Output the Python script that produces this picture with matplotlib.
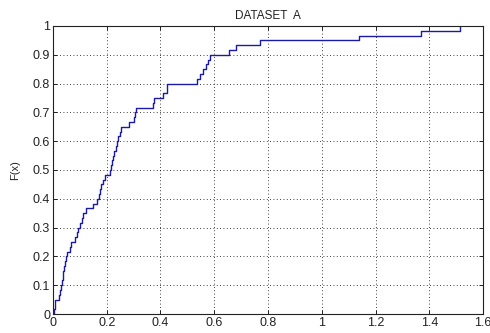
import numpy as np
import matplotlib
matplotlib.use("Agg")
import matplotlib.pyplot as plt

# sorted sample values of dataset A (60 observations)
samples = [
    0.003, 0.006, 0.009, 0.023, 0.026, 0.029, 0.032, 0.036, 0.039, 0.042,
    0.045, 0.048, 0.052, 0.063, 0.066, 0.082, 0.088, 0.094, 0.100, 0.107,
    0.113, 0.122, 0.150, 0.165, 0.170, 0.175, 0.180, 0.185, 0.193, 0.212,
    0.215, 0.218, 0.222, 0.227, 0.235, 0.238, 0.242, 0.250, 0.253, 0.284,
    0.300, 0.305, 0.309, 0.374, 0.376, 0.408, 0.423, 0.425, 0.537, 0.547,
    0.557, 0.570, 0.578, 0.583, 0.656, 0.680, 0.770, 1.140, 1.370, 1.514,
]
xticks = [0, 0.2, 0.4, 0.6, 0.8, 1, 1.2, 1.4, 1.6]
xtick_labels = ["0", "0.2", "0.4", "0.6", "0.8", "1", "1.2", "1.4", "1.6"]
yticks = [0, 0.1, 0.2, 0.3, 0.4, 0.5, 0.6, 0.7, 0.8, 0.9, 1]
ytick_labels = ["0", "0.1", "0.2", "0.3", "0.4", "0.5", "0.6", "0.7", "0.8", "0.9", "1"]

plt.rcParams["font.family"] = ["Liberation Sans", "DejaVu Sans"]

x = np.sort(np.array(samples))
n = len(x)
F = np.arange(1, n + 1) / n

fig = plt.figure(figsize=(4.9, 3.33), dpi=100)
ax = fig.add_axes([0.108, 0.057, 0.878, 0.865])

# empirical cdf as a staircase
ax.step(np.r_[x[0], x], np.r_[0, F], where="post", color="#1a1aa6", lw=1.0)

ax.set_xlim(0, 1.6)
ax.set_ylim(0, 1)
ax.set_xticks(xticks)
ax.set_xticklabels(xtick_labels)
ax.set_yticks(yticks)
ax.set_yticklabels(ytick_labels)
ax.tick_params(direction="in", top=True, right=True, length=3, width=0.7,
               labelsize=9, colors="#222222", pad=2)
ax.grid(True, color="black", linestyle=(0, (1, 3)), linewidth=0.6)
for s in ax.spines.values():
    s.set_linewidth(0.8)
    s.set_color("#222222")

ax.set_title("DATASET  A", fontsize=8.5, color="#222222", pad=5)
ax.set_ylabel("F(x)", fontsize=8, color="#222222", labelpad=9)

fig.savefig("out.png", dpi=100)
